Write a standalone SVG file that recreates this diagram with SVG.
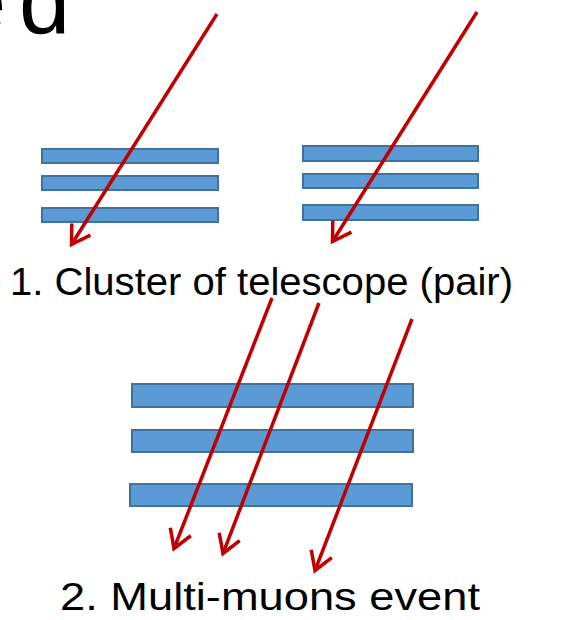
<svg xmlns="http://www.w3.org/2000/svg" width="568" height="620" viewBox="0 0 568 620">
<style>
.bar{fill:#5B9BD5;stroke:#41719C;stroke-width:2}
.arr{stroke:#C00000;stroke-width:3.5;fill:none;marker-end:url(#head)}
.lbl{font-family:"Liberation Sans",Arial,sans-serif;fill:#000}
</style>
<defs>
<marker id="head" markerUnits="userSpaceOnUse" viewBox="-22 -14 26 28" markerWidth="26" markerHeight="28" refX="0" refY="0" orient="auto">
<path d="M -18,-11 L 0,0 L -18,11" fill="none" stroke="#C00000" stroke-width="3.5" stroke-linejoin="miter"/>
</marker>
</defs>
<rect width="568" height="620" fill="#fff"/>
<g id="title">
<text class="lbl" y="33" font-size="92"><tspan x="-45">e</tspan><tspan x="19">d</tspan></text>
</g>
<g id="telescope-left">
<rect class="bar" x="42" y="149" width="176" height="14"/>
<rect class="bar" x="42" y="176" width="176" height="14"/>
<rect class="bar" x="42" y="208" width="176" height="14"/>
</g>
<g id="telescope-right">
<rect class="bar" x="303" y="146" width="175" height="15"/>
<rect class="bar" x="303" y="174" width="175" height="14"/>
<rect class="bar" x="303" y="205" width="175" height="15"/>
</g>
<g id="telescope-bottom">
<rect class="bar" x="132" y="384" width="281" height="23"/>
<rect class="bar" x="132" y="430" width="281" height="22"/>
<rect class="bar" x="130" y="484" width="282" height="22"/>
</g>
<g id="connectors">
<line class="arr" x1="217" y1="14" x2="71.5" y2="244.5"/>
<line class="arr" x1="477" y1="12" x2="332.5" y2="241.5"/>
<line class="arr" x1="272" y1="298" x2="174" y2="548.5"/>
<line class="arr" x1="319" y1="303" x2="223" y2="553.5"/>
<line class="arr" x1="412" y1="319" x2="315" y2="570.5"/>
</g>
<g id="label1">
<text class="lbl" x="10" y="295" font-size="38" textLength="503" lengthAdjust="spacingAndGlyphs">1. Cluster of telescope (pair)</text>
</g>
<g id="label2">
<text class="lbl" x="60" y="610" font-size="38" textLength="420" lengthAdjust="spacingAndGlyphs">2. Multi-muons event</text>
</g>
</svg>
